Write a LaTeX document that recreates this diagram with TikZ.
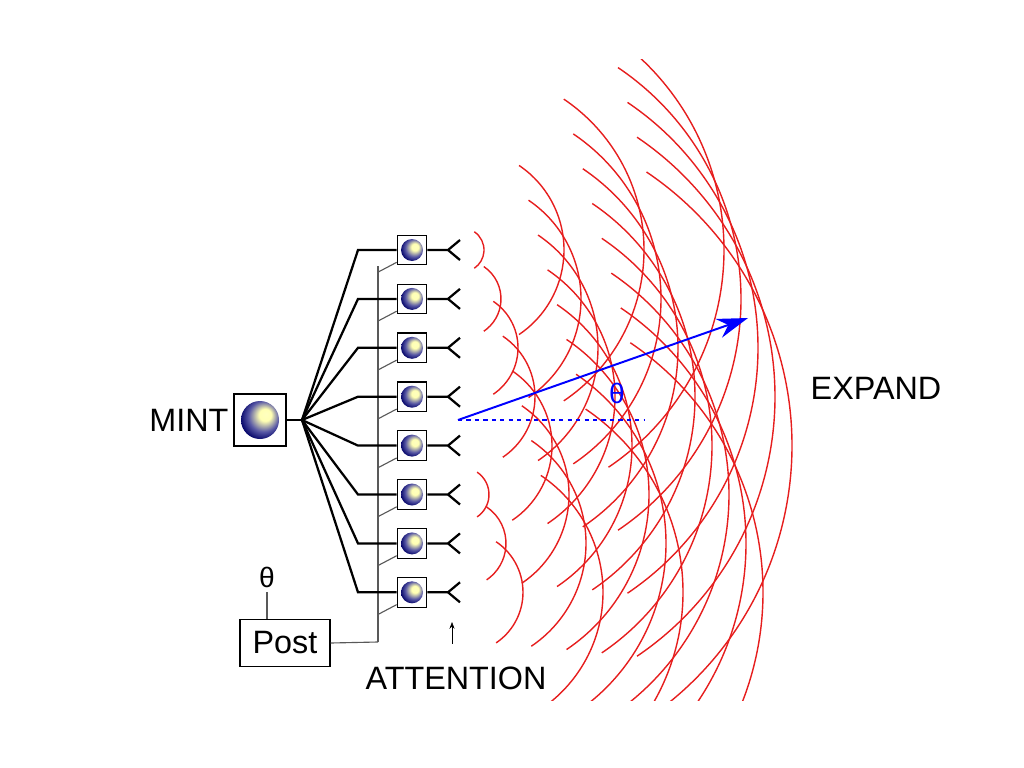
\documentclass[tikz,border=0pt]{standalone}
\usepackage{fontspec}
\setmainfont{Liberation Sans}
\usetikzlibrary{calc,arrows.meta}
\tikzset {>=Stealth}
\definecolor{wavered}{RGB}{230,30,30}
\pgfdeclareradialshading{orb}{\pgfpoint{8bp}{8bp}}{color(0bp)=(yellow!25!white); color(8bp)=(yellow!30!white); color(20bp)=(blue!30!gray); color(30bp)=(blue!40!black); color(50bp)=(blue!40!black)}
\tikzset{
  elem/.style={draw,thick,fill=white,minimum size=21pt,inner sep=0pt},
  feed/.style={line width=1.6pt},
  ctrl/.style={gray!70!black,line width=0.8pt},
  wave/.style={wavered,line width=1pt},
  orbfill/.style={shading=orb},
}
\begin{document}
\begin{tikzpicture}[x=0.025cm,y=-0.025cm]
\useasboundingbox (0,0) rectangle (1024,768);

% waves
\begin{scope}
\clip (430,60) rectangle (810,700);
\foreach \i in {0,...,7}{
  \pgfmathsetmacro{\cy}{250+48.9*\i}
  \pgfmathsetmacro{\rz}{22+mod(\i*17,80)}
  \foreach \k in {0,...,3}{
    \pgfmathsetmacro{\r}{\rz+80*\k}
    \draw[wave] (462,\cy) ++(-56:\r) arc[start angle=-56,end angle=56,radius=\r];
  }
}
\end{scope}

% source
\node[elem,minimum size=37pt] (mint) at (260,420) {};
\shade[orbfill] (260,420) circle (19);
\coordinate (fan) at (302,420);
\draw[feed] (mint.east) -- (fan);
\node[left] (mintlbl) at (mint.west) {\fontsize{23}{23}\selectfont MINT};

% control bus
\coordinate (bustop) at (378,266);
\coordinate (busbot) at (378,642);
\draw[ctrl] (bustop) -- (busbot);

\foreach \i in {1,...,8}{
  \pgfmathsetmacro{\cy}{250+48.9*(\i-1)}
  \coordinate (bend\i) at (358,\cy);
  \node[elem] (el\i) at (412,\cy) {};
  \shade[orbfill] (412,\cy) circle (11);
  \coordinate (ant\i) at (448,\cy);
  \draw[feed] (fan) -- (bend\i) -- (el\i.west);
  \draw[feed] (el\i.east) -- (ant\i) -- ++(12,-10) (ant\i) -- ++(12,10);
  \draw[ctrl] ($(el\i.south west)+(0,-3)$) -- ++(-19,10);
}

% steering input
\node[draw,thick,minimum width=64pt,minimum height=34pt,inner sep=0pt] (post) at (285,643) {\fontsize{23}{23}\selectfont Post};
\node (theta) at (267,577) {\fontsize{20}{20}\selectfont θ};
\draw[ctrl] (post.north -| theta) -- (theta.south);
\draw[ctrl] (post.east) -- (busbot);

% beam
\coordinate (origin) at (458,420);
\coordinate (beamend) at (748,318);
\coordinate (horiz) at (645,420);
\draw[blue,line width=1.4pt,-{Stealth[length=22pt,width=14pt]}] (origin) -- (beamend);
\draw[blue,line width=1.4pt,dashed] (origin) -- (horiz);
\node[blue] (beta) at (617,393) {\fontsize{20}{20}\selectfont θ};

\node (expand) at (876,388) {\fontsize{23}{23}\selectfont EXPAND};
\node (attn) at (456,678) {\fontsize{23}{23}\selectfont ATTENTION};
\coordinate (arrtip) at (452,622);
\draw[->,thin] (attn.north -| arrtip) ++(0,-18) -- (arrtip);
\end{tikzpicture}
\end{document}
